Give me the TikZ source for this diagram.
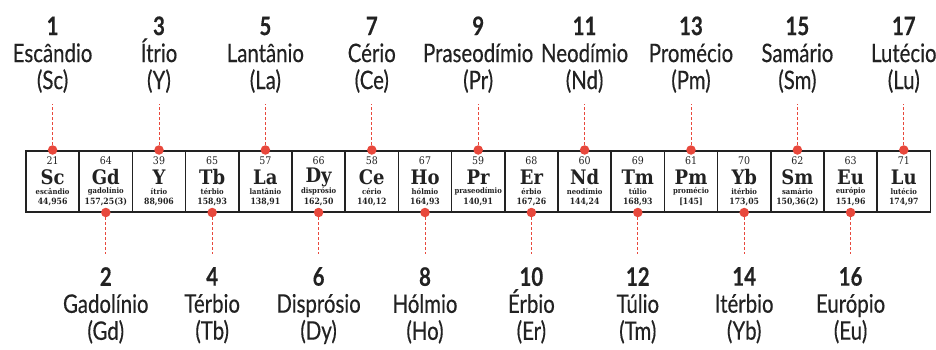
\documentclass[tikz,border=0pt]{standalone}
\usepackage{fontspec}
\setmainfont{Lato}[FakeStretch=0.8,FakeBold=0.35]
\newfontfamily\slab{DejaVu Serif Condensed}
\usetikzlibrary{positioning}

\definecolor{ink}{HTML}{222222}
\definecolor{dotred}{HTML}{E8483C}

\tikzset{
	cell/.style={draw=ink,line width=1.6pt,minimum width=53.2pt,minimum height=61pt,inner sep=0pt},
	pin/.style={circle,fill=dotred,inner sep=0pt,minimum size=9.5pt},
	lead/.style={dotred,line width=0.8pt,dash pattern=on 3pt off 2pt},
	elname/.style={align=center,text=ink,inner sep=0pt,font=\fontsize{25.5}{27}\selectfont},
	znum/.style={text=ink,inner sep=0pt,font=\slab\fontsize{10.5}{11}\selectfont},
	esym/.style={text=ink,inner sep=0pt,font=\slab\bfseries\fontsize{20}{20}\selectfont},
	esmall/.style={text=ink,inner sep=0pt,font=\slab\bfseries\fontsize{7.6}{8}\selectfont},
	emass/.style={text=ink,inner sep=0pt,font=\slab\bfseries\fontsize{8.6}{9}\selectfont}
}

\begin{document}
\begin{tikzpicture}[x=1pt,y=-1pt]
	\useasboundingbox (0,0) rectangle (936,350); % Keeps the page size...

	\foreach \i/\sym/\z/\nm/\ms/\Nm in {
		1/Sc/21/escândio/{44,956}/Escândio, 2/Gd/64/gadolínio/{157,25(3)}/Gadolínio,
		3/Y/39/ítrio/{88,906}/Ítrio, 4/Tb/65/térbio/{158,93}/Térbio,
		5/La/57/lantânio/{138,91}/Lantânio, 6/Dy/66/disprósio/{162,50}/Disprósio,
		7/Ce/58/cério/{140,12}/Cério, 8/Ho/67/hólmio/{164,93}/Hólmio,
		9/Pr/59/praseodímio/{140,91}/Praseodímio, 10/Er/68/érbio/{167,26}/Érbio,
		11/Nd/60/neodímio/{144,24}/Neodímio, 12/Tm/69/túlio/{168,93}/Túlio,
		13/Pm/61/promécio/{[145]}/Promécio, 14/Yb/70/itérbio/{173,05}/Itérbio,
		15/Sm/62/samário/{150,36(2)}/Samário, 16/Eu/63/európio/{151,96}/Európio,
		17/Lu/71/lutécio/{174,97}/Lutécio
	}{
		\pgfmathsetmacro\cx{26+53.2*(\i-0.5)}
		\node[cell] (c\i) at (\cx,181.5) {};% Element box
		\node[znum] (z\i) at (\cx,161) {\z};
		\node[esym] (s\i) at (\cx,177) {\sym};
		\node[esmall] (n\i) at (\cx,191.5) {\nm};
		\node[emass] (m\i) at (\cx,202) {\ms};
		\ifodd\i
			\node[pin] (d\i) at (\cx,150) {};
			\node[elname,anchor=south] (l\i) at (\cx,93) {\textbf{\i}\\\Nm\\(\sym)};
			\draw[lead] (d\i) -- ([yshift=-11pt]l\i.south);
		\else
			\node[pin] (d\i) at (\cx,212.5) {};
			\node[elname,anchor=north] (l\i) at (\cx,267) {\textbf{\i}\\\Nm\\(\sym)};
			\draw[lead] (d\i) -- ([yshift=13pt]l\i.north);
		\fi
	}
\end{tikzpicture}
\end{document}
